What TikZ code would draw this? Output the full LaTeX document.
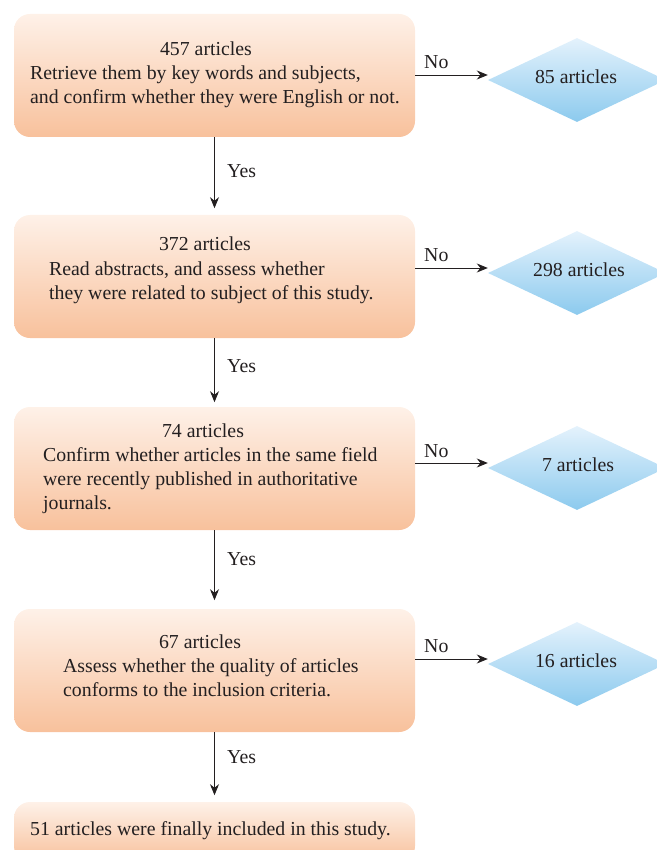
\documentclass[tikz,border=0pt]{standalone}
\usepackage{fontspec}
\setmainfont{Liberation Serif}
\usetikzlibrary{shapes.geometric,arrows.meta}
\definecolor{peachtop}{HTML}{FEF1E8}
\definecolor{peachbot}{HTML}{F8C19C}
\definecolor{bluetop}{HTML}{E4F2FC}
\definecolor{bluebot}{HTML}{8CCAEE}
\definecolor{ink}{HTML}{231F20}
\tikzset{
  box/.style={rectangle, rounded corners=16pt, minimum width=401pt, inner sep=0pt,
    top color=peachtop, bottom color=peachbot, draw=none},
  dia/.style={diamond, minimum width=178pt, minimum height=84pt, inner sep=0pt,
    top color=bluetop, bottom color=bluebot, draw=none},
  txt/.style={inner sep=0pt, text=ink, font=\fontsize{19.8}{22}\selectfont},
  flow/.style={draw=ink, line width=0.9pt, -{Stealth[length=11pt,width=9pt]}},
}
\begin{document}
\begin{tikzpicture}[x=1pt,y=-1pt]
\useasboundingbox (0,0) rectangle (656,850);
% boxes
\node[box, minimum height=123pt] (b1) at (214.5,75.5) {};
\node[box, minimum height=123pt] (b2) at (214.5,276.5) {};
\node[box, minimum height=123pt] (b3) at (214.5,468.5) {};
\node[box, minimum height=123pt] (b4) at (214.5,670.5) {};
\node[box, minimum height=60pt] (b5) at (214.5,832) {};
% diamonds
\node[dia] (d1) at (577,80) {};
\node[dia] (d2) at (577,273) {};
\node[dia] (d3) at (577,468) {};
\node[dia] (d4) at (577,664) {};
\node[txt, anchor=base] (e1) at (576,84) {85 articles};
\node[txt, anchor=base] (e2) at (579,276) {298 articles};
\node[txt, anchor=base] (e3) at (578,471) {7 articles};
\node[txt, anchor=base] (e4) at (576,667) {16 articles};
% box texts
\node[txt, anchor=base] (t1a) at (206,56) {457 articles};
\node[txt, anchor=base west] (t1b) at (30,80) {Retrieve them by key words and subjects,};
\node[txt, anchor=base west] (t1c) at (30,104) {and confirm whether they were English or not.};
\node[txt, anchor=base] (t2a) at (205,250) {372 articles};
\node[txt, anchor=base west] (t2b) at (49,275) {Read abstracts, and assess whether};
\node[txt, anchor=base west] (t2c) at (49,299) {they were related to subject of this study.};
\node[txt, anchor=base] (t3a) at (203,437) {74 articles};
\node[txt, anchor=base west] (t3b) at (43,461) {Confirm whether articles in the same field};
\node[txt, anchor=base west] (t3c) at (43,485) {were recently published in authoritative};
\node[txt, anchor=base west] (t3d) at (43,509) {journals.};
\node[txt, anchor=base] (t4a) at (200,648) {67 articles};
\node[txt, anchor=base west] (t4b) at (63,672) {Assess whether the quality of articles};
\node[txt, anchor=base west] (t4c) at (63,696) {conforms to the inclusion criteria.};
\node[txt, anchor=base west] (t5) at (30,835) {51 articles were finally included in this study.};
% yes arrows
\draw[flow] (b1.south) -- ++(0,71) coordinate (y1);
\draw[flow] (b2.south) -- ++(0,64) coordinate (y2);
\draw[flow] (b3.south) -- ++(0,70) coordinate (y3);
\draw[flow] (b4.south) -- ++(0,63) coordinate (y4);
\node[txt, anchor=west] (l1) at (227,171) {Yes};
\node[txt, anchor=west] (l2) at (227,366) {Yes};
\node[txt, anchor=west] (l3) at (227,559) {Yes};
\node[txt, anchor=west] (l4) at (227,757) {Yes};
% no arrows
\draw[flow] (415,75) coordinate (n1) -- (d1.west |- n1);
\draw[flow] (415,268) coordinate (n2) -- (d2.west |- n2);
\draw[flow] (415,463) coordinate (n3) -- (d3.west |- n3);
\draw[flow] (415,659) coordinate (n4) -- (d4.west |- n4);
\node[txt, anchor=west] (m1) at (424,62) {No};
\node[txt, anchor=west] (m2) at (424,255) {No};
\node[txt, anchor=west] (m3) at (424,451) {No};
\node[txt, anchor=west] (m4) at (424,646) {No};
\end{tikzpicture}
\end{document}
